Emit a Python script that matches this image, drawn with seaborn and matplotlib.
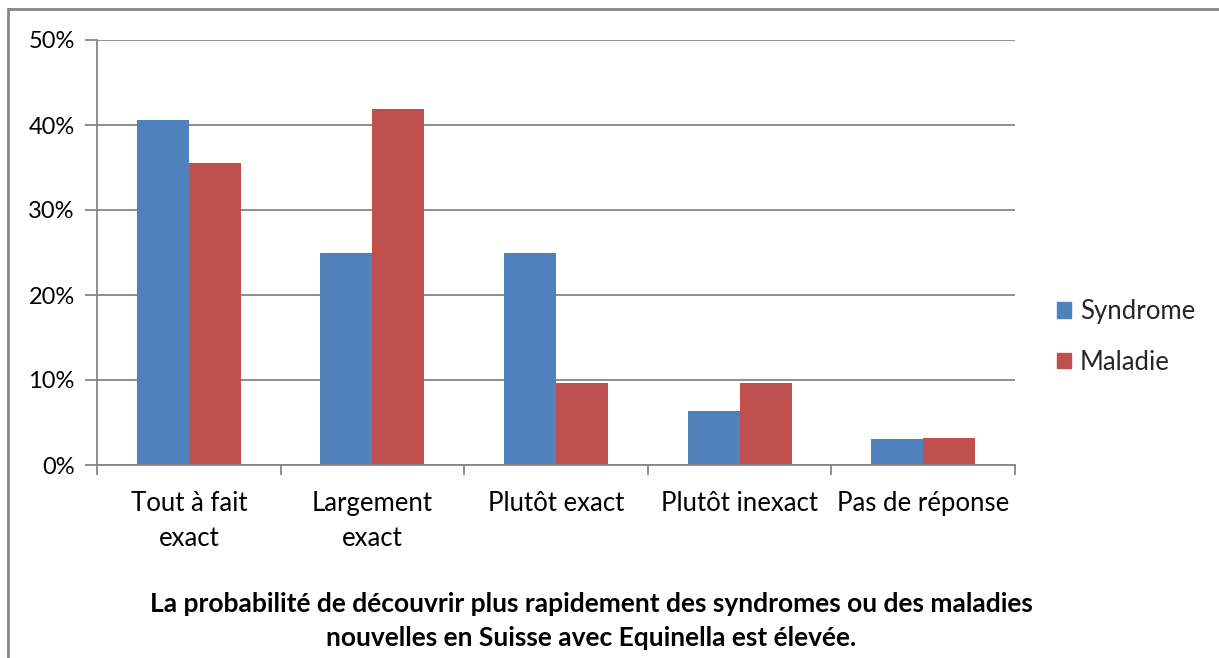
import matplotlib
matplotlib.use('Agg')

import matplotlib.pyplot as plt
import matplotlib.lines as mlines
import matplotlib.patches as mpatches
import seaborn as sns
import pandas as pd
from matplotlib.ticker import FixedLocator

# data
categories = ["Tout à fait\nexact", "Largement\nexact", "Plutôt exact", "Plutôt inexact", "Pas de réponse"]
series = ["Syndrome", "Maladie"]
syndrome = [40.6, 25.0, 25.0, 6.3, 3.1]
maladie = [35.5, 41.9, 9.7, 9.7, 3.2]
yticks = [0, 10, 20, 30, 40, 50]
title = ("La probabilité de découvrir plus rapidement des syndromes ou des maladies\n"
         "nouvelles en Suisse avec Equinella est élevée.")

colors = {"Syndrome": "#4F81BD", "Maladie": "#C0504D"}
grey = "#868686"

df = pd.DataFrame({
    "cat": categories * 2,
    "serie": ["Syndrome"] * len(categories) + ["Maladie"] * len(categories),
    "val": syndrome + maladie,
})

sns.set_style("white")
plt.rcParams['font.family'] = ['Lato', 'DejaVu Sans']

fig = plt.figure(figsize=(12.19, 6.58), dpi=100)
ax = fig.add_axes([97 / 1219, 1 - 465 / 658, (1015 - 97) / 1219, (465 - 40) / 658])

sns.barplot(data=df, x="cat", y="val", hue="serie", hue_order=series,
            palette=colors, width=0.567, saturation=1, ax=ax,
            edgecolor="none", linewidth=0, legend=False)

ax.set_xlim(-0.5, len(categories) - 0.5)
ax.set_ylim(0, 50)
ax.set_yticks(yticks)
ax.set_yticklabels([f"{t}%" for t in yticks])
ax.yaxis.grid(True, color=grey, linewidth=1.3)
ax.set_axisbelow(True)
ax.set_xlabel("")
ax.set_ylabel("")

for s in ["top", "right"]:
    ax.spines[s].set_visible(False)
for s in ["left", "bottom"]:
    ax.spines[s].set_color(grey)
    ax.spines[s].set_linewidth(1.3)

ax.tick_params(axis="y", left=True, length=9, width=1.3, color=grey,
               labelsize=17, pad=7, labelcolor="black")
ax.tick_params(axis="x", which="major", length=0, labelsize=18.5, pad=19,
               labelcolor="black")
for lbl in ax.get_xticklabels():
    lbl.set_linespacing(1.5)
ax.xaxis.set_minor_locator(FixedLocator([i - 0.5 for i in range(len(categories) + 1)]))
ax.tick_params(axis="x", which="minor", bottom=True, length=7, width=1.3, color=grey)

# legend
handles = [mpatches.Patch(color=colors[s], label=s) for s in series]
fig.legend(handles=handles, loc="center left", bbox_to_anchor=(1057 / 1219, 1 - 337 / 658),
           frameon=False, fontsize=18.5, handlelength=0.55, handleheight=0.55,
           handletextpad=0.35, labelspacing=1.0, borderpad=0, borderaxespad=0)

fig.text(591 / 1219, 1 - 621 / 658, title, ha="center", va="center",
         fontsize=19, fontweight="bold", linespacing=1.55, color="black")

# outer chart border (partly cropped)
fig.add_artist(mlines.Line2D([8 / 1219, 1], [1 - 9 / 658] * 2, color=grey, lw=2))
fig.add_artist(mlines.Line2D([8 / 1219] * 2, [0, 1 - 9 / 658], color=grey, lw=2))

fig.savefig("out.png", dpi=100)
